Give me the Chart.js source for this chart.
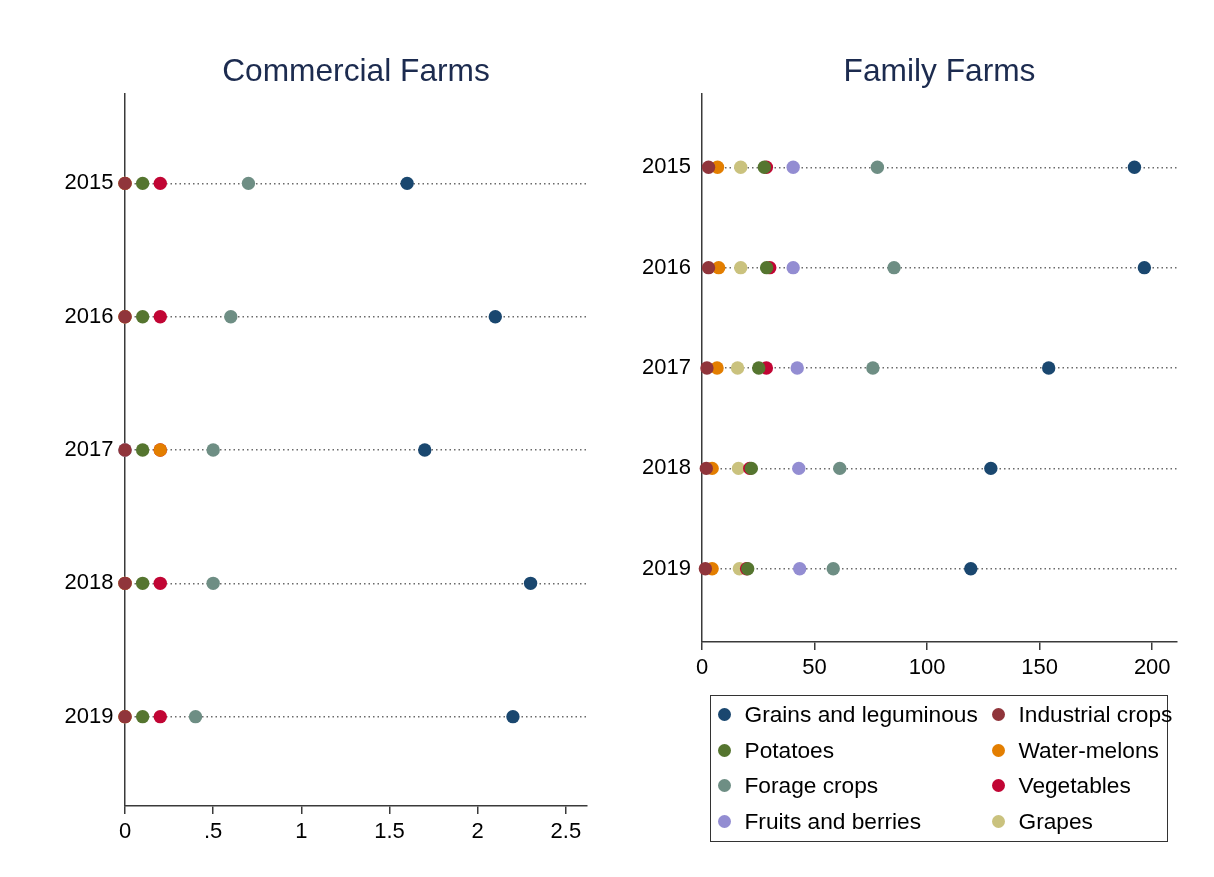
<!DOCTYPE html>
<html>
<head>
<meta charset="utf-8">
<title>Commercial and Family Farms</title>
<script src="https://cdn.jsdelivr.net/npm/chart.js@4"></script>
<style>
  html, body { margin: 0; padding: 0; background: #fff; }
  #page { position: relative; width: 1214px; height: 877px; overflow: hidden; background: #fff;
          font-family: "Liberation Sans", Arial, sans-serif; }
  #left  { position: absolute; left: 0; top: 0; }
  #right { position: absolute; left: 610px; top: 0; }
  #legend { position: absolute; left: 710px; top: 695px; width: 458px; height: 147px;
            box-sizing: border-box; border: 1.5px solid #333; padding-top: 1px;
            display: grid; grid-template-columns: 274px auto; grid-auto-rows: 35.5px;
            font-size: 22.7px; color: #000; }
  #legend .item { display: flex; align-items: center; white-space: nowrap; }
  #legend .dot { width: 13px; height: 13px; border-radius: 50%; margin-left: 7px; margin-right: 13.5px; flex: none; }
</style>
</head>
<body>
<div id="page">
  <canvas id="left" width="610" height="877"></canvas>
  <canvas id="right" width="604" height="700"></canvas>
  <div id="legend"></div>
</div>
<script>
// Years shown on the vertical axis
const years = [2015, 2016, 2017, 2018, 2019];

// Crop groups and their marker colours
const crops = ['Grains and leguminous', 'Industrial crops', 'Potatoes', 'Water-melons',
               'Forage crops', 'Vegetables', 'Fruits and berries', 'Grapes'];
const cropColors = ['#1a476f', '#90353b', '#55752f', '#e37e00',
                    '#6e8e84', '#c10534', '#938dd2', '#cac27e'];

// Commercial farms, 2015..2019
const commGrains      = [1.6, 2.1, 1.7, 2.3, 2.2];
const commIndustrial  = [0, 0, 0, 0, 0];
const commPotatoes    = [0.1, 0.1, 0.1, 0.1, 0.1];
const commWatermelons = [0, 0, 0.2, 0, 0];
const commForage      = [0.7, 0.6, 0.5, 0.5, 0.4];
const commVegetables  = [0.2, 0.2, 0.2, 0.2, 0.2];
const commFruits      = [0, 0, 0, 0, 0];
const commGrapes      = [0, 0, 0, 0, 0];

// Family farms, 2015..2019
const famGrains      = [192.1, 196.5, 154.0, 128.3, 119.4];
const famIndustrial  = [2.9, 2.9, 2.2, 1.9, 1.5];
const famPotatoes    = [27.7, 28.7, 25.2, 21.9, 20.3];
const famWatermelons = [6.9, 7.4, 6.7, 4.5, 4.5];
const famForage      = [77.9, 85.3, 75.9, 61.2, 58.3];
const famVegetables  = [28.6, 30.1, 28.6, 21.2, 19.8];
const famFruits      = [40.5, 40.5, 42.3, 43.0, 43.4];
const famGrapes      = [17.2, 17.2, 15.8, 16.2, 16.6];

// Horizontal axis ticks
const commTicks = [0, 0.5, 1, 1.5, 2, 2.5];
const commTickLabels = ['0', '.5', '1', '1.5', '2', '2.5'];
const famTicks = [0, 50, 100, 150, 200];
const famTickLabels = ['0', '50', '100', '150', '200'];

const FONT = '"Liberation Sans", Arial, sans-serif';

function makeDatasets(series) {
  return series.map((vals, i) => ({
    label: crops[i],
    data: vals.map((v, k) => ({ x: v, y: years[k] })),
    backgroundColor: cropColors[i],
    borderColor: cropColors[i],
    borderWidth: 0,
    pointRadius: 6.7,
    pointHoverRadius: 6.7,
    pointBorderWidth: 0,
    showLine: false,
    clip: false
  }));
}

function dotChart(id, title, series, xMax, ticks, tickLabels, yMin, yMax, g) {
  return new Chart(document.getElementById(id), {
    type: 'scatter',
    data: { datasets: makeDatasets(series) },
    options: {
      responsive: false,
      devicePixelRatio: 1,
      animation: false,
      events: [],
      layout: { padding: { left: 0, top: 0, right: g.padRight, bottom: 0 } },
      plugins: {
        legend: { display: false },
        tooltip: { enabled: false },
        title: {
          display: true,
          text: title,
          fullSize: false,
          color: '#1c2b4f',
          font: { family: FONT, size: 31.7, weight: 'normal', lineHeight: 1.2 },
          padding: { top: 53.5, bottom: 2.5 }
        }
      },
      scales: {
        x: {
          type: 'linear',
          min: 0,
          max: xMax,
          afterBuildTicks: s => { s.ticks = ticks.map(v => ({ value: v })); },
          afterFit: s => { s.height = g.xAxisHeight; },
          ticks: {
            autoSkip: false,
            maxRotation: 0,
            padding: 5,
            color: '#000',
            font: { family: FONT, size: 22 },
            callback: v => tickLabels[ticks.indexOf(v)]
          },
          grid: { drawOnChartArea: false, drawTicks: true, tickLength: 8,
                  color: '#3a3a3a', lineWidth: 1.5 },
          border: { display: true, color: '#3a3a3a', width: 1.5 }
        },
        y: {
          type: 'linear',
          reverse: true,
          min: yMin,
          max: yMax,
          afterBuildTicks: s => { s.ticks = years.map(v => ({ value: v })); },
          afterFit: s => { s.width = g.yAxisWidth; },
          ticks: {
            autoSkip: false,
            padding: g.yLabelGap,
            color: '#000',
            font: { family: FONT, size: 22 },
            callback: v => String(v)
          },
          grid: { drawOnChartArea: true, drawTicks: false, color: '#6a6a6a', lineWidth: 1.5 },
          border: { display: true, color: '#3a3a3a', width: 1.5, dash: [1.5, 3] }
        }
      }
    }
  });
}

dotChart('left', 'Commercial Farms',
  [commGrains, commIndustrial, commPotatoes, commWatermelons,
   commForage, commVegetables, commFruits, commGrapes],
  2.62, commTicks, commTickLabels, 2014.33, 2019.67,
  { yAxisWidth: 125, xAxisHeight: 71, padRight: 23, yLabelGap: 11.5 });

dotChart('right', 'Family Farms',
  [famGrains, famIndustrial, famPotatoes, famWatermelons,
   famForage, famVegetables, famFruits, famGrapes],
  211, famTicks, famTickLabels, 2014.27, 2019.73,
  { yAxisWidth: 92, xAxisHeight: 58, padRight: 37, yLabelGap: 11 });

// Legend built from the crop names and colours
const legend = document.getElementById('legend');
crops.forEach((name, i) => {
  const item = document.createElement('div');
  item.className = 'item';
  const dot = document.createElement('span');
  dot.className = 'dot';
  dot.style.background = cropColors[i];
  const txt = document.createElement('span');
  txt.textContent = name;
  item.appendChild(dot);
  item.appendChild(txt);
  legend.appendChild(item);
});
</script>
</body>
</html>
